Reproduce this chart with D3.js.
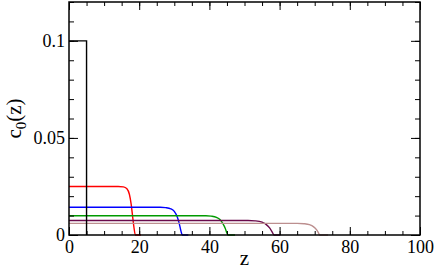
<!DOCTYPE html>
<html>
<head>
<meta charset="utf-8">
<script src="https://cdn.jsdelivr.net/npm/d3@7"></script>
<style>
  body { margin: 0; background: #fff; }
</style>
</head>
<body>
<svg id="chart" width="436" height="270"></svg>
<script>
// tick values
const xMajor = [0, 20, 40, 60, 80, 100];
const xMinor = d3.range(0, 101, 5);
const yMajor = [0, 0.05, 0.1];
const yMinor = d3.range(0, 0.1201, 0.01);

// profiles, [z, c0]
const black = [[0, 0.1], [5, 0.1], [5, 0]];
const red = [[0, 0.025], [14, 0.025], [15.5, 0.0248], [16.5, 0.0238], [17.2, 0.021], [17.7, 0.016], [18.1, 0.010], [18.5, 0.004], [18.9, 0], [20.5, 0]];
const blue = [[0, 0.0143], [26, 0.0143], [27.5, 0.0141], [29, 0.0135], [30, 0.0122], [30.8, 0.0095], [31.4, 0.006], [31.9, 0.002], [32.3, 0], [34, 0]];
const green = [[0, 0.0099], [39, 0.0099], [40.5, 0.0097], [42, 0.0091], [43, 0.008], [43.8, 0.006], [44.5, 0.0035], [45, 0.001], [45.3, 0], [47.3, 0]];
const maroon = [[0, 0.0075], [51, 0.0075], [53, 0.0073], [55, 0.0066], [56.3, 0.0052], [57.2, 0.0035], [57.9, 0.0015], [58.4, 0], [60.2, 0]];
const rosy = [[0, 0.006], [65, 0.006], [67, 0.0058], [68.5, 0.0053], [69.7, 0.0042], [70.5, 0.0028], [71, 0.0014], [71.4, 0], [73.8, 0]];

const series = [
  { pts: red, color: "#ff0000" },
  { pts: blue, color: "#0000ff" },
  { pts: green, color: "#009a00" },
  { pts: maroon, color: "#6a0a4c" },
  { pts: rosy, color: "#bc8f8f" }
];

const FONT = "'Liberation Serif'";

const svg = d3.select("#chart");
const margin = { top: 2, right: 16, bottom: 35, left: 69 };
const width = 436 - margin.left - margin.right;
const height = 270 - margin.top - margin.bottom;

const g = svg.append("g").attr("transform", `translate(${margin.left},${margin.top})`);

const x = d3.scaleLinear().domain([0, 100]).range([0, width]);
const y = d3.scaleLinear().domain([0, 0.12]).range([height, 0]);

// curves
const line = d3.line().x(d => x(d[0])).y(d => y(d[1])).curve(d3.curveMonotoneX);
series.forEach(s => {
  g.append("path").datum(s.pts)
    .attr("fill", "none").attr("stroke", s.color).attr("stroke-width", 1.4)
    .attr("d", line);
});
g.append("path").datum(black)
  .attr("fill", "none").attr("stroke", "#000").attr("stroke-width", 1.4)
  .attr("d", d3.line().x(d => x(d[0])).y(d => y(d[1])));

// inward ticks on all four sides
function ticks(axis, vals, len) {
  return axis.tickValues(vals).tickSizeInner(-len).tickSizeOuter(0).tickFormat("");
}
const addAxis = (ax, tr) => {
  const a = g.append("g").attr("transform", tr).call(ax);
  a.select(".domain").remove();
  a.selectAll("line").attr("stroke", "#000").attr("stroke-width", 1);
  return a;
};
addAxis(ticks(d3.axisBottom(x), xMinor, 4), `translate(0,${height})`);
addAxis(ticks(d3.axisBottom(x), xMajor, 8), `translate(0,${height})`);
addAxis(ticks(d3.axisTop(x), xMinor, 4), "translate(0,0)");
addAxis(ticks(d3.axisTop(x), xMajor, 8), "translate(0,0)");
addAxis(ticks(d3.axisLeft(y), yMinor, 5), "translate(0,0)");
addAxis(ticks(d3.axisLeft(y), yMajor, 9), "translate(0,0)");
addAxis(ticks(d3.axisRight(y), yMinor, 5), `translate(${width},0)`);
addAxis(ticks(d3.axisRight(y), yMajor, 9), `translate(${width},0)`);

// tick labels
const xl = d3.axisBottom(x).tickValues(xMajor).tickSize(0).tickPadding(5).tickFormat(d3.format("d"));
const xa = g.append("g").attr("transform", `translate(0,${height})`).call(xl);
xa.select(".domain").remove();
xa.attr("font-family", null).attr("font-size", null);
xa.selectAll("text").attr("fill", "#000").style("font-family", FONT).style("font-size", "18px");

const yl = d3.axisLeft(y).tickValues(yMajor).tickSize(0).tickPadding(4).tickFormat(d => d === 0 ? "0" : String(d));
const ya = g.append("g").call(yl);
ya.select(".domain").remove();
ya.attr("font-family", null).attr("font-size", null);
ya.selectAll("text").attr("fill", "#000").style("font-family", FONT).style("font-size", "18px");

// frame
g.append("rect").attr("width", width).attr("height", height)
  .attr("fill", "none").attr("stroke", "#000").attr("stroke-width", 1.5);

// axis titles
svg.append("text").attr("x", margin.left + width / 2).attr("y", 265)
  .style("font-family", FONT).style("font-size", "21px")
  .attr("text-anchor", "middle").text("z");

const yt = svg.append("text")
  .attr("transform", `translate(21,${margin.top + height / 2}) rotate(-90)`)
  .style("font-family", FONT).style("font-size", "21px")
  .attr("text-anchor", "middle");
yt.append("tspan").text("c");
yt.append("tspan").style("font-size", "15px").attr("dy", 5).text("0");
yt.append("tspan").attr("dy", -5).text("(z)");
</script>
</body>
</html>
